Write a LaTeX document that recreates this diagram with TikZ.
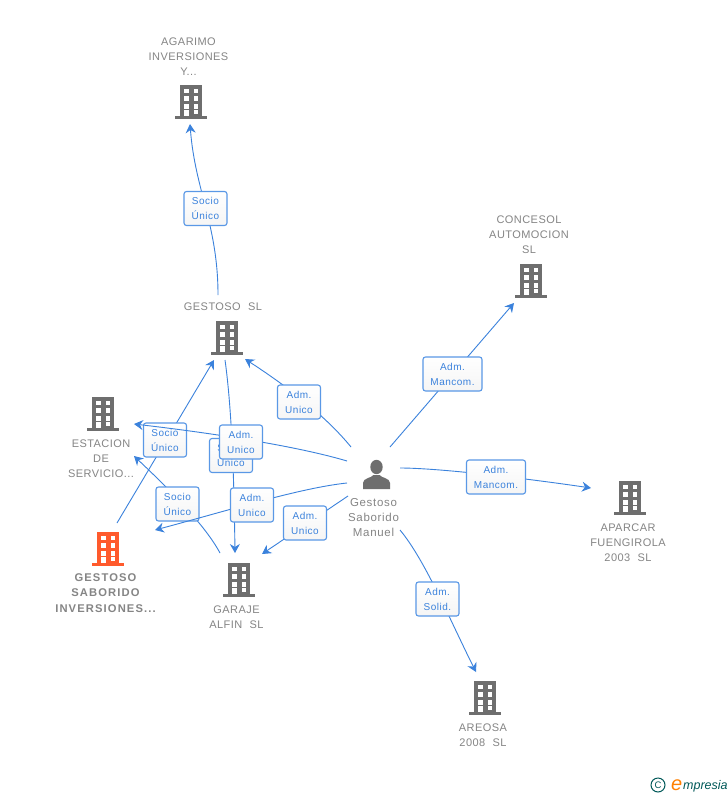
\documentclass[tikz,border=0pt]{standalone}
\usepackage{fontspec}
\setmainfont{Liberation Sans}
\usetikzlibrary{arrows.meta}
\definecolor{edgeblue}{HTML}{3B82DC}
\definecolor{boxblue}{HTML}{5A98E6}
\definecolor{labgray}{HTML}{858585}
\definecolor{icongray}{HTML}{6E6E6E}
\definecolor{iconred}{HTML}{FF5A2C}
\newfontfamily\lblfont[LetterSpace=4]{Liberation Sans}
\newfontfamily\boxfont[LetterSpace=5]{Liberation Sans}
\newfontfamily\perfont[LetterSpace=6]{Liberation Sans}
\newfontfamily\bldfont[LetterSpace=10]{Liberation Sans Bold}
\tikzset{
  x=1pt,y=-1pt,
  conn/.style={draw=edgeblue,line width=0.9pt,-{Stealth[length=9pt,width=10pt,inset=3pt]}},
  rolebox/.style={draw=boxblue,line width=1.1pt,rounded corners=2.5pt,top color=white,bottom color=white!96!black,
     minimum width=43pt,minimum height=34pt,inner sep=0pt,align=center,text=edgeblue,
     font=\boxfont\fontsize{10}{15}\selectfont},
  rolewide/.style={rolebox,minimum width=59pt},
  lbl/.style={align=center,text=labgray,inner sep=0pt,font=\lblfont\fontsize{11}{15}\selectfont,text width=120pt},
  lblbold/.style={lbl,font=\bldfont\fontsize{11.2}{15.5}\selectfont},
  lblper/.style={lbl,font=\perfont\fontsize{11.5}{15}\selectfont},
  pics/building/.style={code={
    \fill[#1] (-11,-17) rectangle (11,14);
    \fill[#1] (-16,14) rectangle (16,17);
    \foreach \r in {-13.3,-5.7,2.3}{
      \fill[white] (-7.3,\r) rectangle (-2.4,\r+4.4);
      \fill[white] (2.7,\r) rectangle (7.2,\r+4.4);
    }
    \fill[white] (-7.3,7.8) rectangle (-2.4,14);
    \fill[white] (2.7,7.8) rectangle (7.2,12);
  }},
  pics/person/.style={code={
    \fill[#1] (0,-8) circle[x radius=6.2,y radius=7.2];
    \fill[#1] (-13.5,14) -- (-13.5,8) .. controls (-13.5,3) and (-5,3) .. (-3,0) -- (3,0)
      .. controls (5,3) and (13.5,3) .. (13.5,8) -- (13.5,14) -- cycle;
  }}
}
\begin{document}
\begin{tikzpicture}
\useasboundingbox[fill=white] (0,0) rectangle (728,795);
% connector ends
\coordinate (gestosoTop) at (218,295);
\coordinate (agarimoIn) at (190,124);
\coordinate (gsiOut) at (117,523);
\coordinate (gestosoIn) at (214,360);
\coordinate (gestosoOut) at (225,360);
\coordinate (garajeIn) at (235,553);
\coordinate (garajeOut) at (220,553);
\coordinate (estacionInA) at (134,456);
\coordinate (estacionInB) at (134,424);
\coordinate (gestosoInB) at (245,359);
\coordinate (gsiIn) at (155,530);
\coordinate (garajeInB) at (262,554);
\coordinate (concesolIn) at (514,303);
\coordinate (aparcarIn) at (591,488);
\coordinate (areosaIn) at (476,672);
\coordinate (pA) at (351,447);
\coordinate (pB) at (347,461);
\coordinate (pC) at (347,483);
\coordinate (pD) at (348,496);
\coordinate (pE) at (390,447);
\coordinate (pF) at (400,468);
\coordinate (pG) at (400,530);
% buildings
\pic at (191,102) {building=icongray};
\pic at (531,281) {building=icongray};
\pic at (227,338) {building=icongray};
\pic at (103,414) {building=icongray};
\pic at (630,498) {building=icongray};
\pic at (108,549) {building=iconred};
\pic at (239,580) {building=icongray};
\pic at (485,698) {building=icongray};
\pic at (376.5,475) {person=icongray};
% names
\node[lbl] (nAgarimo) at (188.5,57) {AGARIMO\\INVERSIONES\\Y...};
\node[lbl] (nConcesol) at (529,235) {CONCESOL\\AUTOMOCION\\SL};
\node[lbl] (nGestoso) at (223,306.5) {GESTOSO\ \ SL};
\node[lbl] (nEstacion) at (101,459) {ESTACION\\DE\\SERVICIO...};
\node[lbl] (nAparcar) at (628,542.5) {APARCAR\\FUENGIROLA\\2003\ \ SL};
\node[lblbold] (nGsi) at (105.5,593) {GESTOSO\\SABORIDO\\INVERSIONES...};
\node[lbl] (nGaraje) at (236.5,617) {GARAJE\\ALFIN\ \ SL};
\node[lbl] (nAreosa) at (483,735) {AREOSA\\2008\ \ SL};
\node[lblper] (nPerson) at (373.5,518) {Gestoso\\Saborido\\Manuel};
% connectors and role boxes, in stacking order
\draw[conn] (gestosoTop) .. controls (218,225) and (195,190) .. (agarimoIn);
\node[rolebox] (rAgarimo) at (205.5,208.5) {Socio\\Único};
\draw[conn] (gsiOut) -- (gestosoIn);
\node[rolebox] (rGsi) at (165,440) {Socio\\Único};
\draw[conn] (gestosoOut) .. controls (232,410) and (234,480) .. (garajeIn);
\node[rolebox] (rGaraje) at (231,455.5) {Socio\\Único};
\draw[conn] (pB) .. controls (300,447) and (220,434) .. (estacionInB);
\node[rolebox] (rEstacion) at (241,442) {Adm.\\Unico};
\draw[conn] (garajeOut) .. controls (205,525) and (170,490) .. (estacionInA);
\node[rolebox] (rSocioB) at (177.5,504) {Socio\\Único};
\draw[conn] (pC) .. controls (300,488) and (230,510) .. (gsiIn);
\node[rolebox] (rGsiB) at (252,505) {Adm.\\Unico};
\draw[conn] (pD) -- (garajeInB);
\node[rolebox] (rGarajeB) at (305,523) {Adm.\\Unico};
\draw[conn] (pA) .. controls (325,415) and (285,385) .. (gestosoInB);
\node[rolebox] (rGestoso) at (299,402) {Adm.\\Unico};
\draw[conn] (pE) -- (concesolIn);
\node[rolewide] (rConcesol) at (452.5,374) {Adm.\\Mancom.};
\draw[conn] (pF) .. controls (440,468) and (530,479) .. (aparcarIn);
\node[rolewide] (rAparcar) at (496,477) {Adm.\\Mancom.};
\draw[conn] (pG) .. controls (425,560) and (450,620) .. (areosaIn);
\node[rolebox] (rAreosa) at (437.5,599) {Adm.\\Solid.};
% logo
\node[draw=teal!70!black,line width=1pt,circle,inner sep=0pt,minimum size=14pt,text=teal!70!black,font=\fontsize{9.5}{9.5}\selectfont] (logoC) at (658,785) {C};
\node[anchor=base west,inner sep=0pt,text=teal!70!black,font=\fontsize{12.5}{12.5}\selectfont\itshape] (logoT) at (683,789.5) {mpresia};
\node[anchor=base west,inner sep=0pt,text=orange,font=\fontsize{20}{20}\selectfont\itshape] (logoE) at (671,790) {e};
\end{tikzpicture}
\end{document}
